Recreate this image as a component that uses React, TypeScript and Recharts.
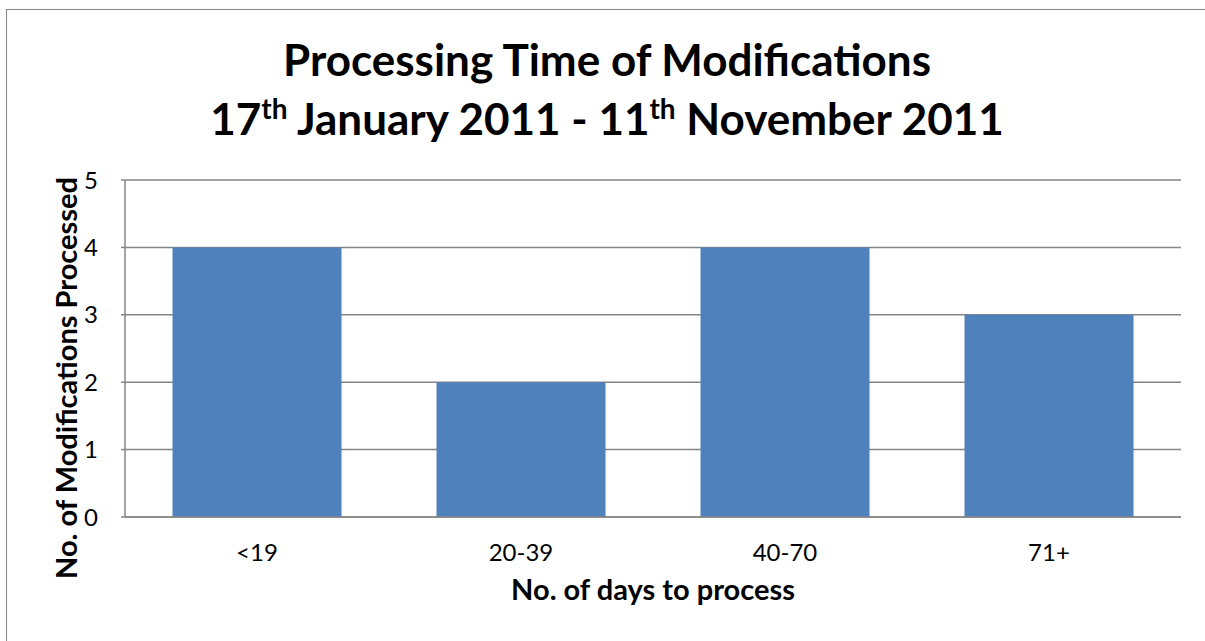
import React from "react";
import { BarChart, Bar, XAxis, YAxis, CartesianGrid, Label } from "recharts";

const categories = ["<19", "20-39", "40-70", "71+"];
const counts = [4, 2, 4, 3];
const yTicks = [0, 1, 2, 3, 4, 5];

const data = categories.map((range, i) => ({ range, count: counts[i] }));

const FONT = "Lato, 'Open Sans', sans-serif";
const GRID = "#868686";

const YTitle = () => (
  <text
    x={65}
    y={378}
    transform="rotate(-90 65 378)"
    textAnchor="middle"
    dominantBaseline="central"
    fontSize={29}
    fontWeight={700}
    fill="#000"
    fontFamily={FONT}
  >
    No. of Modifications Processed
  </text>
);

const App: React.FC = () => {
  return (
    <div
      style={{
        position: "absolute",
        left: 0,
        top: 0,
        width: 1205,
        height: 641,
        overflow: "hidden",
        background: "#fff",
        fontFamily: FONT,
      }}
    >
      <div
        style={{
          position: "absolute",
          left: 6,
          top: 9,
          width: 1300,
          height: 700,
          borderTop: `1.5px solid ${GRID}`,
          borderLeft: `1.5px solid ${GRID}`,
        }}
      />
      <div style={{ position: "absolute", left: 0, top: 0 }}>
        <BarChart
          width={1205}
          height={641}
          data={data}
          margin={{ top: 180, right: 24, left: 0, bottom: 0 }}
          barCategoryGap="18%"
        >
          <CartesianGrid vertical={false} stroke={GRID} strokeWidth={1.5} />
          <XAxis
            dataKey="range"
            height={124}
            tickLine={false}
            tickSize={0}
            tickMargin={27}
            axisLine={{ stroke: GRID, strokeWidth: 1.5 }}
            tick={{ fontSize: 24, fill: "#000", fontFamily: FONT }}
          >
            <Label
              value="No. of days to process"
              position="insideBottom"
              offset={41}
              style={{ fontSize: 29, fontWeight: 700, fill: "#000", fontFamily: FONT }}
            />
          </XAxis>
          <YAxis
            width={125}
            domain={[0, 5]}
            ticks={yTicks}
            interval={0}
            tickSize={4}
            tickMargin={23}
            tickLine={{ stroke: GRID, strokeWidth: 1.5 }}
            axisLine={{ stroke: GRID, strokeWidth: 1.5 }}
            tick={{ fontSize: 24, fill: "#000", fontFamily: FONT }}
          >
            <Label content={<YTitle />} />
          </YAxis>
          <Bar dataKey="count" fill="#4F81BD" isAnimationActive={false} />
        </BarChart>
      </div>
      <svg
        width={1205}
        height={160}
        style={{ position: "absolute", left: 0, top: 0, pointerEvents: "none" }}
      >
        <text x={607} y={76} textAnchor="middle" fontSize={44} fontWeight={700} fill="#000" fontFamily={FONT}>
          Processing Time of Modifications
        </text>
        <text x={607} y={135} textAnchor="middle" fontSize={44} fontWeight={700} fill="#000" fontFamily={FONT}>
          17
          <tspan fontSize={28} dy={-16}>th</tspan>
          <tspan dy={16}> January 2011 - 11</tspan>
          <tspan fontSize={28} dy={-16}>th</tspan>
          <tspan dy={16}> November 2011</tspan>
        </text>
      </svg>
    </div>
  );
};

export default App;
